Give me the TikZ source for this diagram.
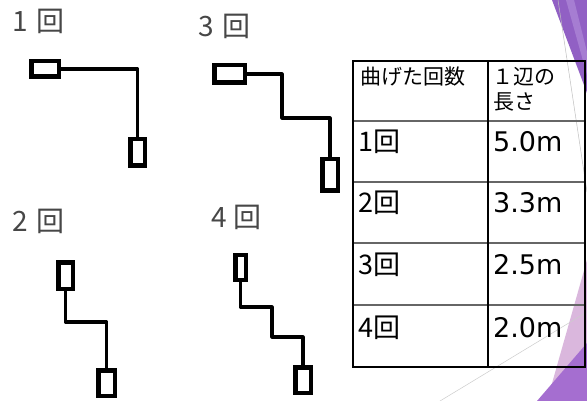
\documentclass[tikz,border=0pt]{standalone}
\usepackage{fontspec}
\setmainfont{Noto Sans CJK JP}
\newfontfamily\numfont{DejaVu Sans}
\usetikzlibrary{positioning,calc}
\definecolor{facet}{HTML}{9160C4}
\definecolor{facetlight}{HTML}{A67DD2}
\definecolor{lilac}{HTML}{DAB7DD}
\definecolor{violet}{HTML}{A56ED0}

\begin{document}
\begin{tikzpicture}[x=1pt,y=-1pt,
  pad/.style={draw, line width=4.5pt, inner sep=0pt},
  wire/.style={line width=3.2pt, line join=round},
  count/.style={anchor=base west, inner sep=0pt, text=black!72, font=\fontsize{28}{28}\selectfont},
  head/.style={anchor=base west, inner sep=0pt, font=\fontsize{21}{21}\selectfont},
  cell/.style={anchor=base west, inner sep=0pt, font=\fontsize{27}{27}\selectfont},
  value/.style={cell, font=\numfont\fontsize{27}{27}\selectfont},
  rule/.style={line width=1.3pt, black!60}]
\useasboundingbox (0,0) rectangle (587,401);
\fill[white] (0,0) rectangle (587,401);

\fill[facet] (552,0) -- (587,0) -- (587,93) -- cycle;
\fill[facetlight] (566,0) -- (574,0) -- (587,52) -- (587,75) -- cycle;
\fill[lilac] (587,260) -- (547,401) -- (587,401) -- cycle;
\fill[violet] (587,343) -- (537,401) -- (587,401) -- cycle;
\draw[black!25, line width=0.5pt] (558,0) -- (587,192);
\draw[black!20, line width=0.5pt] (440,401) -- (587,312);

\node[count] (n1) at (12,32) {1\hspace{9pt}回};
\node[count] (n3) at (198,37) {3\hspace{9pt}回};
\node[count] (n2) at (12,232) {2\hspace{9pt}回};
\node[count] (n4) at (211,228) {4\hspace{7pt}回};

\node[pad, minimum width=27.5, minimum height=15.5] (s1a) at (45,69) {};
\node[pad, minimum width=14.5, minimum height=26.5] (s1b) at (137.5,152.5) {};
\draw[wire] (s1a.east) -| (s1b.north);

\node[pad, minimum width=30.5, minimum height=17.5] (s3a) at (229.5,74) {};
\node[pad, minimum width=15.5, minimum height=31.5] (s3b) at (330,175) {};
\draw[wire] (s3a.east) -| (282,118) -| (s3b.north);

\node[pad, minimum width=14.5, minimum height=26.5] (s2a) at (65.5,275.5) {};
\node[pad, minimum width=16.5, minimum height=25.5] (s2b) at (106.5,383) {};
\draw[wire] (s2a.south) |- (105,322) -| (s2b.north);

\node[pad, minimum width=10.5, minimum height=24.5] (s4a) at (240.5,267.5) {};
\node[pad, minimum width=15.5, minimum height=25.5] (s4b) at (303,380) {};
\draw[wire] (s4a.south) |- (272,307) |- (302,337) -| (s4b.north);

\draw[rule] (353,121) -- (585,121) (353,182) -- (585,182)
            (353,243) -- (585,243) (353,305) -- (585,305);
\draw[line width=1.5pt] (353,61) rectangle (585,367);
\draw[line width=1.8pt] (488,61) -- (488,367);

\node[head] (h1) at (360,85) {曲げた回数};
\node[head] (h2) at (492,85) {１辺の};
\node[head] (h3) at (493,110) {長さ};
\node[cell] (r1) at (358,152) {1回};
\node[cell] (r2) at (358,213) {2回};
\node[cell] (r3) at (358,275) {3回};
\node[cell] (r4) at (358,337) {4回};
\node[value] (v1) at (493,152) {5.0m};
\node[value] (v2) at (493,213) {3.3m};
\node[value] (v3) at (493,275) {2.5m};
\node[value] (v4) at (493,337) {2.0m};
\end{tikzpicture}
\end{document}
